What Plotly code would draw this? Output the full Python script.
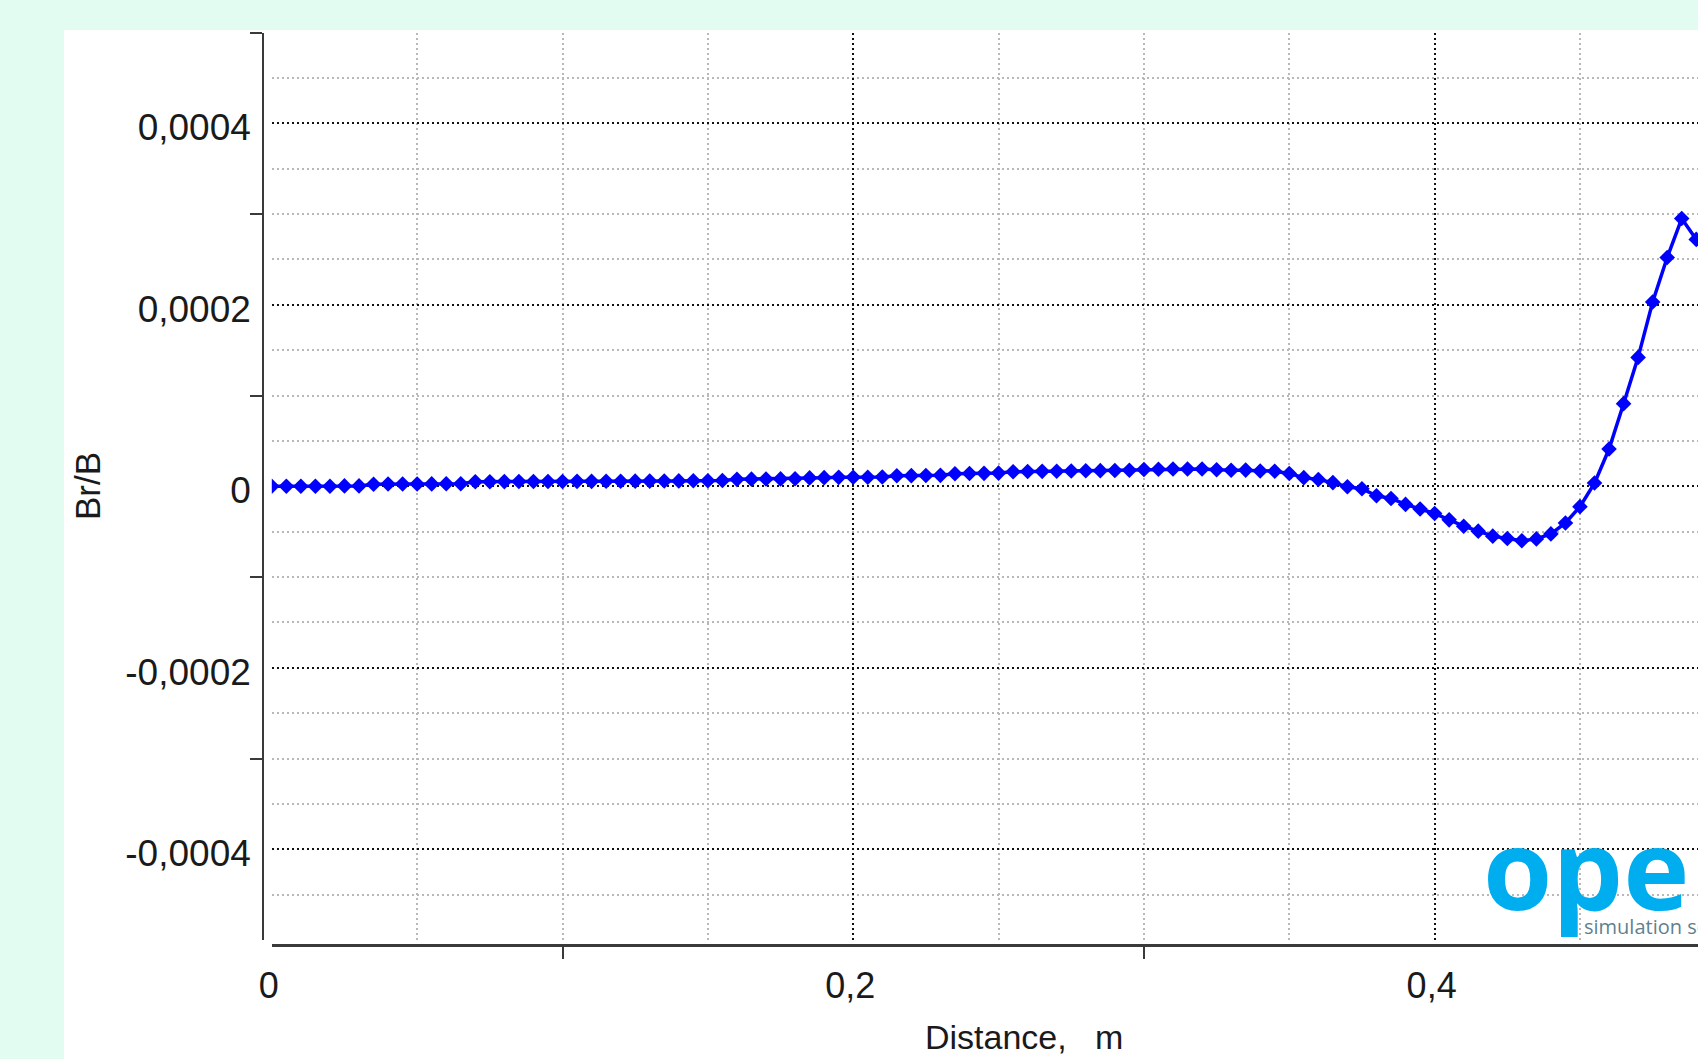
import plotly.graph_objects as go

# ---------------- data ----------------
distance_m = [
    0.000, 0.005, 0.010, 0.015, 0.020, 0.025, 0.030, 0.035, 0.040, 0.045,
    0.050, 0.055, 0.060, 0.065, 0.070, 0.075, 0.080, 0.085, 0.090, 0.095,
    0.100, 0.105, 0.110, 0.115, 0.120, 0.125, 0.130, 0.135, 0.140, 0.145,
    0.150, 0.155, 0.160, 0.165, 0.170, 0.175, 0.180, 0.185, 0.190, 0.195,
    0.200, 0.205, 0.210, 0.215, 0.220, 0.225, 0.230, 0.235, 0.240, 0.245,
    0.250, 0.255, 0.260, 0.265, 0.270, 0.275, 0.280, 0.285, 0.290, 0.295,
    0.300, 0.305, 0.310, 0.315, 0.320, 0.325, 0.330, 0.335, 0.340, 0.345,
    0.350, 0.355, 0.360, 0.365, 0.370, 0.375, 0.380, 0.385, 0.390, 0.395,
    0.400, 0.405, 0.410, 0.415, 0.420, 0.425, 0.430, 0.435, 0.440, 0.445,
    0.450, 0.455, 0.460, 0.465, 0.470, 0.475, 0.480, 0.485, 0.490,
]

br_over_b = [
    0.0, 0.0, 0.0, 0.0, 0.0, 0.4e-6, 0.4e-6, 2.2e-6, 2.4e-6, 2.5e-6,
    2.5e-6, 2.6e-6, 2.7e-6, 2.8e-6, 5.0e-6, 5.0e-6, 5.1e-6, 5.2e-6, 5.2e-6, 5.3e-6,
    5.3e-6, 5.4e-6, 5.4e-6, 5.5e-6, 5.5e-6, 5.6e-6, 5.7e-6, 5.8e-6, 5.9e-6, 6.0e-6,
    6.1e-6, 6.3e-6, 7.6e-6, 7.8e-6, 8.0e-6, 8.1e-6, 8.2e-6, 9.2e-6, 9.5e-6, 9.8e-6,
    1.00e-5, 1.00e-5, 1.02e-5, 1.15e-5, 1.17e-5, 1.19e-5, 1.20e-5, 1.38e-5, 1.40e-5, 1.42e-5,
    1.45e-5, 1.60e-5, 1.62e-5, 1.64e-5, 1.66e-5, 1.68e-5, 1.70e-5, 1.72e-5, 1.74e-5, 1.76e-5,
    1.85e-5, 1.88e-5, 1.90e-5, 1.90e-5, 1.90e-5, 1.82e-5, 1.76e-5, 1.78e-5, 1.68e-5, 1.66e-5,
    1.40e-5, 9.5e-6, 7.5e-6, 4.0e-6, -0.5e-6, -2.8e-6, -1.05e-5, -1.35e-5, -2.0e-5, -2.5e-5,
    -3.0e-5, -3.7e-5, -4.4e-5, -4.95e-5, -5.5e-5, -5.75e-5, -6.0e-5, -5.8e-5, -5.25e-5, -4.05e-5,
    -2.25e-5, 3.5e-6, 4.1e-5, 9.1e-5, 1.42e-4, 2.03e-4, 2.52e-4, 2.95e-4, 2.72e-4,
]

x_label_vals = [0.0, 0.2, 0.4]
x_label_text = ["0", "0,2", "0,4"]
x_mark_vals = [0.1, 0.3]

y_label_vals = [0.0004, 0.0002, 0.0, -0.0002, -0.0004]
y_label_text = ["0,0004", "0,0002", "0", "-0,0002", "-0,0004"]
y_mark_vals = [0.0005, 0.0003, 0.0001, -0.0001, -0.0003]

x_title = "Distance,\u00a0\u00a0 m"
y_title = "Br/B"

# ---------------- geometry (pixels of the 1698x1059 page) ----------------
W, H = 1698, 1059
plot_left, plot_top, plot_bottom = 271.8, 32.5, 940.0
yline_x = 263.0
xline_y = 945.0
x_range = [0.0, 0.4906]
y_range = [-0.0005, 0.0005]

FONT = "Liberation Sans"
TXT = "#1a1a1a"

fig = go.Figure()

fig.add_trace(go.Scatter(
    x=distance_m, y=br_over_b, mode="lines+markers",
    line=dict(color="#0000FF", width=3.5),
    marker=dict(symbol="diamond", size=12, color="#0000FF",
                line=dict(width=0)),
    showlegend=False, hoverinfo="x+y",
))
# helper (empty) traces so that the separate axis-line axes are instantiated
fig.add_trace(go.Scatter(x=[None], y=[None], xaxis="x2", yaxis="y",
                         showlegend=False, hoverinfo="skip"))
fig.add_trace(go.Scatter(x=[None], y=[None], xaxis="x", yaxis="y2",
                         showlegend=False, hoverinfo="skip"))

grid_major = dict(showgrid=True, gridcolor="#111111", gridwidth=2,
                  griddash="2px,3px")
minor_grid = dict(showgrid=True, gridcolor="#b8b8b8", gridwidth=2,
                  griddash="2px,3px", ticks="")

fig.update_layout(
    width=W, height=H,
    paper_bgcolor="#E3FCF1",
    plot_bgcolor="white",
    margin=dict(l=0, r=0, t=0, b=0, pad=0, autoexpand=False),
    showlegend=False,
    font=dict(family=FONT, size=36, color=TXT),
    xaxis=dict(
        domain=[plot_left / W, 1.0], range=x_range,
        anchor="y", showline=False, zeroline=False, ticks="",
        tickmode="array", tickvals=x_label_vals, ticktext=x_label_text,
        ticklabelstandoff=21, ticklabelshift=-3,
        tickfont=dict(family=FONT, size=36, color=TXT),
        minor=dict(dtick=0.05, tick0=0, **minor_grid),
        automargin=False, fixedrange=True,
        **grid_major,
    ),
    yaxis=dict(
        domain=[1 - plot_bottom / H, 1 - plot_top / H], range=y_range,
        anchor="x", showline=False, zeroline=False, ticks="",
        tickmode="array", tickvals=y_label_vals, ticktext=y_label_text,
        ticklabelstandoff=20, ticklabelshift=4,
        tickfont=dict(family=FONT, size=37, color=TXT),
        minor=dict(dtick=0.00005, tick0=0, **minor_grid),
        automargin=False, fixedrange=True,
        **grid_major,
    ),
    xaxis2=dict(
        overlaying="x", anchor="free", position=1 - xline_y / H,
        range=x_range, showgrid=False, zeroline=False,
        showline=True, linecolor="#3a3a3a", linewidth=3,
        ticks="outside", ticklen=12, tickwidth=2, tickcolor="#3a3a3a",
        tickmode="array", tickvals=x_mark_vals, showticklabels=False,
        automargin=False, fixedrange=True,
    ),
    yaxis2=dict(
        overlaying="y", anchor="free", position=yline_x / W, side="left",
        range=y_range, showgrid=False, zeroline=False,
        showline=True, linecolor="#3a3a3a", linewidth=2,
        ticks="outside", ticklen=12, tickwidth=2, tickcolor="#3a3a3a",
        tickmode="array", tickvals=y_mark_vals, showticklabels=False,
        automargin=False, fixedrange=True,
    ),
    shapes=[
        dict(type="rect", xref="paper", yref="paper",
             x0=64 / W, x1=1.0, y0=0.0, y1=1 - 30 / H,
             fillcolor="white", line=dict(width=0), layer="below"),
    ],
    annotations=[
        dict(text=y_title, xref="paper", yref="paper",
             x=87 / W, y=1 - 486 / H, xanchor="center", yanchor="middle",
             textangle=-90, showarrow=False,
             font=dict(family=FONT, size=35, color=TXT)),
        dict(text=x_title, xref="paper", yref="paper",
             x=1024 / W, y=1 - 1037 / H, xanchor="center", yanchor="middle",
             showarrow=False,
             font=dict(family=FONT, size=34, color=TXT)),
        dict(text="<b>open</b>", xref="paper", yref="paper",
             x=1481 / W, y=1 - 866 / H, xanchor="left", yanchor="middle",
             showarrow=False,
             font=dict(family="Open Sans", size=112, color="#00AEEF")),
        dict(text="simulation software", xref="paper", yref="paper",
             x=1582 / W, y=1 - 926 / H, xanchor="left", yanchor="middle",
             showarrow=False,
             font=dict(family="Open Sans", size=20, color="#5f7f90")),
    ],
)

fig.write_html("out.html")
